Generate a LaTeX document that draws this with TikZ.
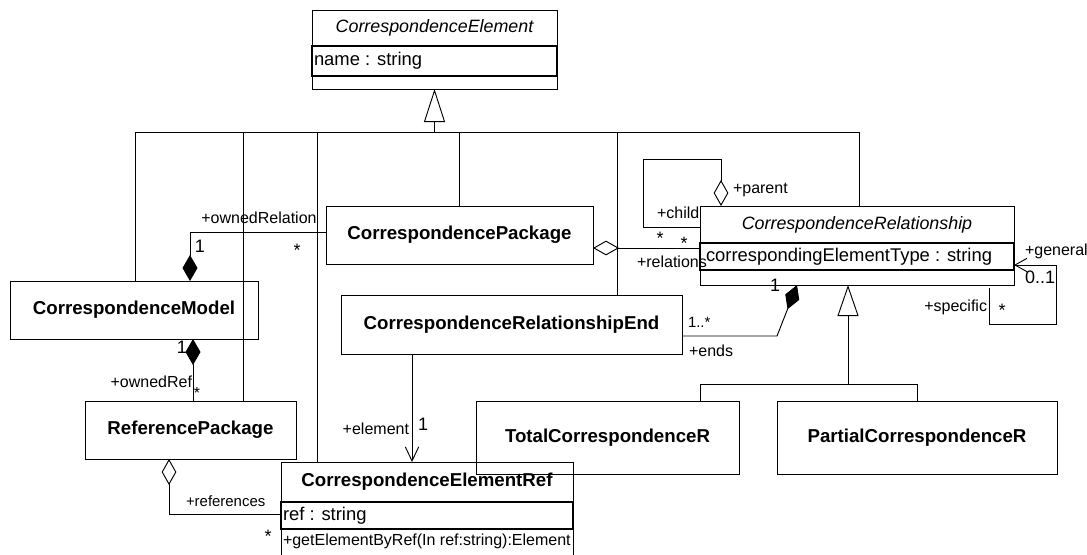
\documentclass[tikz,border=0pt]{standalone}
\usepackage{fontspec}
\setmainfont{Liberation Sans}
\usetikzlibrary{arrows.meta,calc}

\begin{document}
\begin{tikzpicture}[x=0.75pt,y=-0.75pt,
  every node/.style={inner sep=0pt, outer sep=0pt},
  clsbox/.style 2 args={draw, line width=0.75pt, minimum width=#1*0.75pt, minimum height=#2*0.75pt},
  thickbox/.style 2 args={draw, line width=1.5pt, minimum width=#1*0.75pt, minimum height=#2*0.75pt},
  clsname/.style={font=\fontsize{14}{16}\selectfont\bfseries},
  absname/.style={font=\fontsize{13.4}{16}\selectfont\itshape},
  attr/.style={font=\fontsize{13.8}{16}\selectfont},
  oper/.style={font=\fontsize{12}{14}\selectfont},
  role/.style={font=\fontsize{12}{14}\selectfont},
  smallrole/.style={font=\fontsize{11.2}{13}\selectfont},
  mult/.style={font=\fontsize{13.5}{16}\selectfont},
  conn/.style={draw, line width=0.7pt},
  gentip/.style={-{Triangle[open, length=#1, width=15.75pt]}},
  comptip/.style={{Diamond[length=19.5pt, width=11.25pt]}-},
  aggtip/.style={{Diamond[open, length=19.5pt, width=11pt]}-},
  navtip/.style={-{Straight Barb[length=#1, width=10pt]}},
]
\fill[white] (0,0) rectangle (1087,554);
\useasboundingbox (0,0) rectangle (1087,554);

% ---- classes ----
% CorrespondenceElement (abstract)
\node[clsbox={245}{36}, absname] (CEn) at (434.5,28) {CorrespondenceElement};
\node[clsbox={245}{13}] (CEo) at (434.5,82.5) {};
\node[thickbox={245}{30}] (CEa) at (434.5,61) {};
\node[attr, anchor=west] (CEat) at ($(CEa.west)+(2,0)$) {name : string};

\node[clsbox={248}{58}, clsname] (CM) at (134,310) {CorrespondenceModel};
\node[clsbox={267}{58}, clsname] (CP) at (459.5,235) {CorrespondencePackage};

% CorrespondenceRelationship (abstract)
\node[clsbox={314}{37}, absname] (CRn) at (857,224.5) {CorrespondenceRelationship};
\node[clsbox={314}{15}] (CRo) at (857,277.5) {};
\node[thickbox={314}{27}] (CRa) at (857,256.5) {};
\node[attr, anchor=west] (CRat) at ($(CRa.west)+(6,0)$) {correspondingElementType : string};

\node[clsbox={341}{59}, clsname] (CRE) at (511.5,324.5) {CorrespondenceRelationshipEnd};
\node[clsbox={211}{58}, clsname] (RP) at (190.5,430) {ReferencePackage};
\node[clsbox={263}{73}, clsname] (TCR) at (607.5,437.5) {TotalCorrespondenceR};
\node[clsbox={280}{73}, clsname] (PCR) at (917,437.5) {PartialCorrespondenceR};

% CorrespondenceElementRef
\node[clsbox={292}{40}, clsname] (CERn) at (427,482) {CorrespondenceElementRef};
\node[clsbox={292}{28}] (CERo) at (427,543) {};
\node[thickbox={292}{27}] (CERa) at (427,515.5) {};
\node[attr, anchor=west] (CERat) at ($(CERa.west)+(2,0)$) {ref : string};
\node[oper, anchor=west] (CERot) at ($(CERo.west)+(2,-2)$) {+getElementByRef(In ref:string):Element};

% ---- generalization to CorrespondenceElement ----
\coordinate (g0) at (434.5,132);
\coordinate (b1) at (135,132);
\coordinate (b2) at (243,132);
\coordinate (b3) at (317,132);
\coordinate (b5) at (617,132);
\coordinate (b6) at (859,132);
\draw[conn, gentip=24.75pt] (g0) -- (CEo.south);
\draw[conn] (b1) -- (b6);
\draw[conn] (b1) -- (b1 |- CM.north);
\draw[conn] (b2) -- (b2 |- RP.north);
\draw[conn] (b3) -- (b3 |- CERn.north);
\draw[conn] (CP.north |- b1) -- (CP.north);
\draw[conn] (b5) -- (b5 |- CRE.north);
\draw[conn] (b6) -- (b6 |- CRn.north);

% ---- generalization to CorrespondenceRelationship ----
\coordinate (g1) at (848,384);
\coordinate (t1) at (700,384);
\draw[conn, gentip=23.25pt] (g1) -- (g1 |- CRo.south);
\draw[conn] (t1 |- TCR.north) -- (t1) -- (PCR.north |- t1) -- (PCR.north);

% ---- ownedRelation ----
\coordinate (or1) at (190,232);
\draw[conn, comptip] (or1 |- CM.north) -- (or1) -- (or1 -| CP.west);
\node[role, anchor=base] (l1) at (259,223) {+ownedRelation};
\node[mult, anchor=base] (l2) at (200,252) {1};
\node[mult, anchor=base] (l3) at (297,256) {*};

% ---- ownedRef ----
\draw[conn, comptip] ($(CM.south west)+(183,0)$) -- ($(RP.north west)+(108,0)$);
\node[mult, anchor=base] (l4) at (182,353) {1};
\node[role, anchor=base east] (l5) at (192,387) {+ownedRef};
\node[role, anchor=base] (l6) at (197,398) {*};

% ---- relations ----
\coordinate (rl) at (593,248);
\draw[conn, aggtip] (rl) -- (rl -| CRa.west);
\node[role, anchor=base west] (l7) at (637,267) {+relations};
\node[mult, anchor=base] (l8) at (684,249) {*};

% ---- parent / child ----
\coordinate (pc) at (643,159);
\draw[conn, aggtip] ($(CRn.north west)+(21,0)$) |- (pc) |- ($(CRn.west)+(0,2.5)$);
\node[role, anchor=base west] (l9) at (733,193) {+parent};
\node[role, anchor=base west] (l10) at (657,218) {+child};
\node[mult, anchor=base] (l11) at (660,244) {*};

% ---- general / specific ----
\coordinate (gs) at (1056,324);
\draw[conn, navtip=9pt] ($(CRo.south west)+(289,3)$) |- (gs) |- ($(CRa.south east)+(0,-5)$);
\node[role, anchor=base west] (l12) at (1025,255) {+general};
\node[mult, anchor=base west] (l13) at (1025,283) {0..1};
\node[role, anchor=base east] (l14) at (987,311) {+specific};
\node[mult, anchor=base] (l15) at (1002,316) {*};

% ---- ends ----
\coordinate (ce) at (777,336);
\draw[conn, comptip] ($(CRo.south west)+(97,0)$) -- (ce) -- (ce -| CRE.east);
\node[mult, anchor=base] (l16) at (775,291) {1};
\node[smallrole, anchor=base west] (l17) at (688,327) {1..*};
\node[role, anchor=base west] (l18) at (689,356) {+ends};

% ---- element ----
\draw[conn, navtip=10.5pt] ($(CRE.south west)+(71,0)$) -- ($(CERn.north west)+(131,0)$);
\node[role, anchor=base east] (l19) at (409,434) {+element};
\node[mult, anchor=base] (l20) at (423,430) {1};

% ---- references ----
\coordinate (rf) at (169,514);
\draw[conn, aggtip] (RP.south -| rf) -- (rf) -- (rf -| CERa.west);
\node[smallrole, anchor=base west] (l21) at (186,506) {+references};
\node[mult, anchor=base] (l22) at (268,542) {*};
\end{tikzpicture}
\end{document}
